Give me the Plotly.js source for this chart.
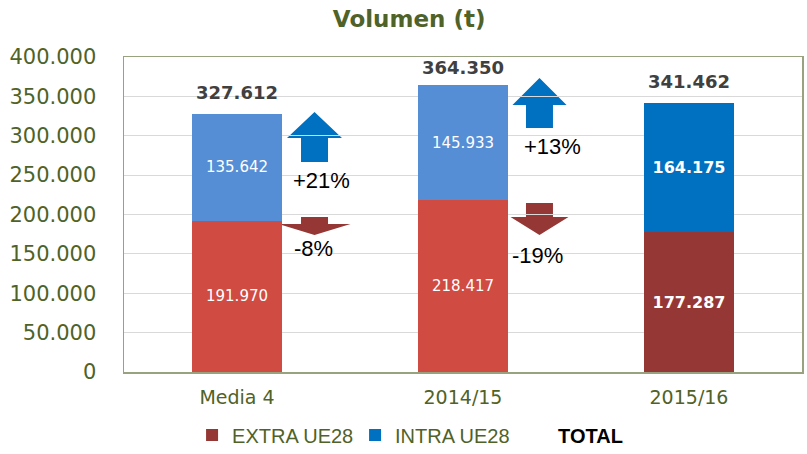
<!DOCTYPE html>
<html>
<head>
<meta charset="utf-8">
<script src="https://cdn.plot.ly/plotly-3.0.1.min.js"></script>
<style>html,body{margin:0;padding:0;background:#fff}#chart{width:807px;height:454px}</style>
</head>
<body>
<div id="chart"></div>
<script>
// ---- data ----
const categories = ['Media 4', '2014/15', '2015/16'];
const extraUE28 = [191970, 218417, 177287];
const intraUE28 = [135642, 145933, 164175];
const totals = [327612, 364350, 341462];
const seriesNames = ['EXTRA UE28', 'INTRA UE28', 'TOTAL'];

// ---- styles ----
const GREEN = '#4F6228';
const C_EXTRA_L = '#D04B42', C_EXTRA_D = '#953735';
const C_INTRA_L = '#558ED5', C_INTRA_D = '#0070C0';
const FONT = 'DejaVu Sans, Verdana, sans-serif';
const ARIAL = 'Liberation Sans, Arial, sans-serif';
const YMAX = 400000;

const fmt = v => String(v).replace(/\B(?=(\d{3})+(?!\d))/g, '.');

// percentage change of last period vs previous ones
const last = categories.length - 1;
const pct = (arr, i) => {
  const v = Math.round((arr[last] / arr[i] - 1) * 100);
  return (v > 0 ? '+' : '') + v + '%';
};

const histX = categories.slice(0, last);
const lastX = [categories[last]];

const barCommon = {
  type: 'bar', width: 0.4, textposition: 'inside', insidetextanchor: 'middle',
  textangle: 0, texttemplate: '%{y:,d}', hoverinfo: 'skip', cliponaxis: false
};

const traces = [
  Object.assign({}, barCommon, {
    x: histX, y: extraUE28.slice(0, last), name: seriesNames[0], showlegend: false,
    marker: {color: C_EXTRA_L}, textfont: {family: FONT, size: 15, color: '#fff'}
  }),
  Object.assign({}, barCommon, {
    x: lastX, y: extraUE28.slice(last), name: seriesNames[0],
    marker: {color: C_EXTRA_D}, textfont: {family: FONT, size: 16, color: '#fff', weight: 'bold'}
  }),
  Object.assign({}, barCommon, {
    x: histX, y: intraUE28.slice(0, last), name: seriesNames[1], showlegend: false,
    marker: {color: C_INTRA_L}, textfont: {family: FONT, size: 15, color: '#fff'}
  }),
  Object.assign({}, barCommon, {
    x: lastX, y: intraUE28.slice(last), name: seriesNames[1],
    marker: {color: C_INTRA_D}, textfont: {family: FONT, size: 16, color: '#fff', weight: 'bold'}
  }),
  {
    type: 'scatter', mode: 'markers', x: [null], y: [null],
    name: '<b><span style="color:#000">' + seriesNames[2] + '</span></b>',
    marker: {size: 0, color: 'rgba(0,0,0,0)', line: {width: 0}}
  }
];

// plot geometry in pixels (for decorative arrows / label clamping)
const L = 124, W = 678, T = 57, H = 315;
const px = x => ((x - L) / W).toFixed(4);
const py = y => ((T + H - y) / H).toFixed(4);
const poly = pts => 'M ' + pts.map(p => px(p[0]) + ',' + py(p[1])).join(' L ') + ' Z';

function upArrow(cx, tip, headBase, bottom, headHalf, stemHalf) {
  return poly([[cx - stemHalf, bottom], [cx - stemHalf, headBase], [cx - headHalf, headBase],
               [cx, tip], [cx + headHalf, headBase], [cx + stemHalf, headBase], [cx + stemHalf, bottom]]);
}
function downArrow(cx, top, headTop, tip, headHalf, stemHalf) {
  return poly([[cx - stemHalf, top], [cx + stemHalf, top], [cx + stemHalf, headTop], [cx + headHalf, headTop],
               [cx, tip], [cx - headHalf, headTop], [cx - stemHalf, headTop]]);
}

const shapes = [
  {type: 'path', xref: 'paper', yref: 'paper', layer: 'below', path: upArrow(314.5, 112, 138, 162, 27.5, 13.5), fillcolor: C_INTRA_D, line: {width: 0}},
  {type: 'path', xref: 'paper', yref: 'paper', layer: 'below', path: downArrow(314.5, 217, 224, 235, 36, 13.5), fillcolor: C_EXTRA_D, line: {width: 0}},
  {type: 'path', xref: 'paper', yref: 'paper', layer: 'below', path: upArrow(539.5, 78, 105, 128, 27, 13.5), fillcolor: C_INTRA_D, line: {width: 0}},
  {type: 'path', xref: 'paper', yref: 'paper', layer: 'below', path: downArrow(539.5, 203, 217, 235, 29, 13.5), fillcolor: C_EXTRA_D, line: {width: 0}}
];

const pctFont = {family: ARIAL, size: 22, color: '#000'};
const pctAnn = (x, y, text) => ({xref: 'paper', yref: 'paper', x: +px(x), y: +py(y), xanchor: 'center', yanchor: 'middle',
  text: text, showarrow: false, font: pctFont});

// total labels: ~21px above bar top, kept inside the plot area (Excel-like clamping)
const totalShift = v => {
  const top = T + H - v / YMAX * H;
  const center = Math.max(top - 21, T + 11.5);
  return top - 12 - center;
};

const annotations = [
  pctAnn(322, 180, pct(intraUE28, 0)),
  pctAnn(313, 249, pct(extraUE28, 0)),
  pctAnn(552, 147, pct(intraUE28, 1)),
  pctAnn(538, 256, pct(extraUE28, 1))
].concat(categories.map((c, i) => ({
  xref: 'x', yref: 'y', x: c, y: totals[i], xanchor: 'center', yanchor: 'bottom', yshift: totalShift(totals[i]),
  text: fmt(totals[i]), showarrow: false, font: {family: FONT, size: 18, color: '#404040', weight: 'bold'}
})));

const BOX = '#98A27E';
const layout = {
  width: 807, height: 454,
  margin: {l: L, r: 807 - L - W, t: T, b: 454 - T - H, pad: 0},
  paper_bgcolor: '#fff', plot_bgcolor: '#fff',
  separators: ',.',
  barmode: 'stack',
  title: {text: '<b>Volumen (t)</b>', font: {family: FONT, size: 23, color: GREEN},
          xref: 'container', yref: 'container', x: 0.507, xanchor: 'center', y: 1 - 19 / 454, yanchor: 'middle'},
  xaxis: {
    type: 'category', showline: true, mirror: true, linecolor: BOX, linewidth: 1.5,
    showgrid: false, ticks: '', tickfont: {family: FONT, size: 19, color: GREEN},
    ticklabelstandoff: 8, fixedrange: true
  },
  yaxis: {
    range: [0, YMAX], dtick: 50000, tickformat: ',d',
    showline: true, mirror: true, linecolor: BOX, linewidth: 1.5,
    showgrid: true, gridcolor: '#D9D9D9', gridwidth: 1, zeroline: false,
    ticks: '', tickfont: {family: FONT, size: 21, color: GREEN}, ticklabelstandoff: 22, fixedrange: true
  },
  legend: {
    orientation: 'h', xref: 'container', yref: 'container', x: 0.238, xanchor: 'left',
    y: 1 - 435 / 454, yanchor: 'middle', traceorder: 'normal', entrywidth: 118,
    font: {family: ARIAL, size: 20, color: GREEN}, bgcolor: 'rgba(0,0,0,0)'
  },
  shapes: shapes,
  annotations: annotations,
  showlegend: true
};

Plotly.newPlot('chart', traces, layout, {displayModeBar: false, staticPlot: true});
</script>
</body>
</html>
